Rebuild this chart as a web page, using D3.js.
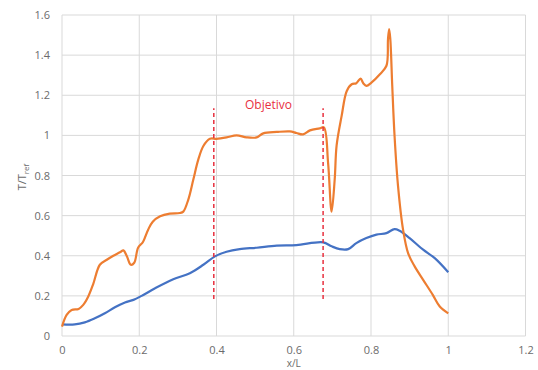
<!DOCTYPE html>
<html><head><meta charset="utf-8">
<script src="https://cdn.jsdelivr.net/npm/d3@7"></script>
<style>body{margin:0;background:#fff}svg{display:block}text{font-family:"Open Sans","Liberation Sans",sans-serif}</style>
</head><body><svg id="c" width="538" height="370"></svg>
<script>
const xTicks=[0,0.2,0.4,0.6,0.8,1,1.2];
const yTicks=[0,0.2,0.4,0.6,0.8,1,1.2,1.4,1.6];
const orangeX=[0,0.012,0.025,0.043,0.055,0.068,0.081,0.098,0.116,0.133,0.15,0.159,0.168,0.178,0.187,0.197,0.21,0.223,0.235,0.254,0.279,0.305,0.314,0.327,0.34,0.353,0.366,0.383,0.40,0.426,0.452,0.478,0.504,0.521,0.556,0.59,0.607,0.624,0.642,0.667,0.678,0.689,0.698,0.706,0.711,0.724,0.737,0.75,0.762,0.773,0.78,0.788,0.801,0.823,0.84,0.844,0.847,0.85,0.855,0.861,0.87,0.883,0.896,0.913,0.935,0.96,0.978,1.0];
const orangeY=[0.047,0.105,0.13,0.135,0.155,0.197,0.26,0.355,0.38,0.40,0.417,0.427,0.397,0.355,0.365,0.44,0.47,0.53,0.57,0.597,0.61,0.613,0.62,0.68,0.78,0.88,0.947,0.983,0.983,0.99,1.0,0.99,0.99,1.01,1.017,1.02,1.012,1.005,1.025,1.035,1.04,0.86,0.62,0.78,0.95,1.097,1.22,1.255,1.26,1.283,1.26,1.247,1.263,1.305,1.347,1.48,1.53,1.48,1.247,0.997,0.747,0.53,0.413,0.347,0.28,0.205,0.147,0.113];
const blueX=[0,0.033,0.059,0.085,0.111,0.137,0.163,0.185,0.206,0.241,0.288,0.331,0.366,0.396,0.426,0.46,0.504,0.556,0.607,0.676,0.698,0.719,0.741,0.762,0.788,0.814,0.84,0.861,0.874,0.9,0.935,0.965,1.0];
const blueY=[0.058,0.058,0.068,0.088,0.113,0.143,0.167,0.18,0.2,0.238,0.283,0.313,0.355,0.397,0.42,0.433,0.44,0.45,0.453,0.467,0.447,0.433,0.433,0.463,0.488,0.505,0.513,0.533,0.525,0.488,0.43,0.388,0.318];
const targetX=[0.393,0.676];
const targetRange=[0.185,1.135];
const targetLabel="Objetivo";

const svg=d3.select("#c");
const x=d3.scaleLinear().domain([0,1.2]).range([62,525.5]);
const y=d3.scaleLinear().domain([0,1.6]).range([336,15]);

const grid=svg.append("g");
grid.selectAll("line.h").data(yTicks).join("line").attr("x1",x(0)).attr("x2",x(1.2)).attr("y1",d=>y(d)).attr("y2",d=>y(d)).attr("stroke","#d9d9d9").attr("stroke-width",1);
grid.selectAll("line.v").data(xTicks).join("line").attr("y1",y(0)).attr("y2",y(1.6)).attr("x1",d=>x(d)).attr("x2",d=>x(d)).attr("stroke","#d9d9d9").attr("stroke-width",1);

const ya=svg.append("g").attr("transform",`translate(${x(0)},0)`).call(d3.axisLeft(y).tickValues(yTicks).tickFormat(d3.format("~g")).tickSize(0).tickPadding(12));
ya.select(".domain").remove();
ya.selectAll("text").attr("fill","#6b6b6b").style("font-size","11px");
const xa=svg.append("g").attr("transform",`translate(0,${y(0)})`).call(d3.axisBottom(x).tickValues(xTicks).tickFormat(d3.format("~g")).tickSize(0).tickPadding(10));
xa.select(".domain").remove();
xa.selectAll("text").attr("fill","#6b6b6b").style("font-size","11px");

const line=d3.line().curve(d3.curveCatmullRom.alpha(0.5)).x(d=>x(d[0])).y(d=>y(d[1]));
svg.append("path").datum(blueX.map((v,i)=>[v,blueY[i]])).attr("d",line).attr("fill","none").attr("stroke","#4472c4").attr("stroke-width",2.2);
svg.append("path").datum(orangeX.map((v,i)=>[v,orangeY[i]])).attr("d",line).attr("fill","none").attr("stroke","#ed7d31").attr("stroke-width",2.2);

svg.selectAll("line.t").data(targetX).join("line").attr("x1",d=>x(d)).attr("x2",d=>x(d)).attr("y1",y(targetRange[0])).attr("y2",y(targetRange[1])).attr("stroke","#e8303f").attr("stroke-width",1.5).attr("stroke-dasharray","4,3");
svg.append("text").attr("x",x((targetX[0]+targetX[1])/2)).attr("y",109).attr("text-anchor","middle").attr("fill","#e8303f").style("font-size","12px").text(targetLabel);

const yl=svg.append("text").attr("transform","translate(26,177) rotate(-90)").attr("text-anchor","middle").attr("fill","#6b6b6b").style("font-size","11px");
yl.append("tspan").text("T/T");
yl.append("tspan").attr("dy",3).style("font-size","8px").text("ref");
svg.append("text").attr("x",x(0.6)).attr("y",367).attr("text-anchor","middle").attr("fill","#6b6b6b").style("font-size","10px").text("x/L");
</script></body></html>
